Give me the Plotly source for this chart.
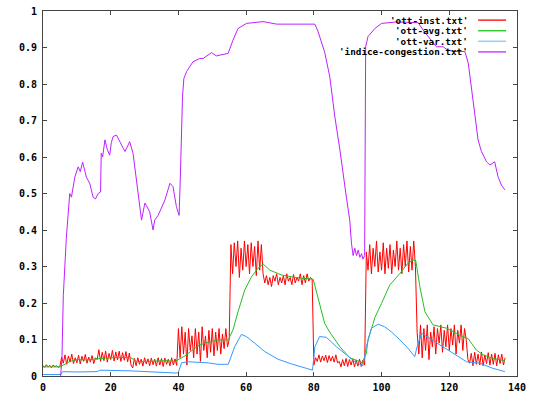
import numpy as np
import plotly.graph_objects as go

# ---------------- data ----------------
# ott-inst (sampled every 0.5 from 0 to 136.5)
inst_x = [i * 0.5 for i in range(274)]
inst_y = [
    # 0..4.5
    0.028, 0.024, 0.031, 0.025, 0.029, 0.023, 0.030, 0.026, 0.028, 0.024,
    # 5..15.5
    0.026, 0.052, 0.035, 0.058, 0.032, 0.055, 0.038, 0.060, 0.034, 0.050, 0.036,
    0.057, 0.033, 0.054, 0.040, 0.059, 0.035, 0.052, 0.038, 0.056, 0.034, 0.050,
    # 16..25.5
    0.045, 0.072, 0.040, 0.065, 0.042, 0.068, 0.038, 0.062, 0.045, 0.070,
    0.041, 0.066, 0.044, 0.068, 0.040, 0.064, 0.043, 0.067, 0.039, 0.063,
    # 26..39.5
    0.030, 0.022, 0.048, 0.028, 0.050, 0.032, 0.046, 0.027, 0.050, 0.033, 0.047, 0.028, 0.049, 0.031,
    0.046, 0.027, 0.050, 0.030, 0.048, 0.026, 0.049, 0.032, 0.046, 0.028, 0.050, 0.030, 0.047, 0.029,
    # 40..54.5
    0.130, 0.050, 0.135, 0.060, 0.120, 0.030, 0.130, 0.070, 0.110, 0.050, 0.130, 0.060, 0.120, 0.040, 0.135,
    0.070, 0.110, 0.050, 0.125, 0.065, 0.130, 0.055, 0.120, 0.070, 0.130, 0.060, 0.115, 0.075, 0.130, 0.080,
    # 55..64.5
    0.100, 0.360, 0.280, 0.365, 0.300, 0.370, 0.270, 0.350, 0.290, 0.370,
    0.300, 0.360, 0.280, 0.365, 0.300, 0.355, 0.275, 0.370, 0.290, 0.360,
    # 65..79.5
    0.280, 0.255, 0.275, 0.250, 0.270, 0.245, 0.275, 0.260, 0.280, 0.250, 0.270, 0.255, 0.275, 0.250, 0.280,
    0.260, 0.270, 0.250, 0.278, 0.255, 0.270, 0.260, 0.280, 0.250, 0.275, 0.255, 0.280, 0.260, 0.270, 0.265,
    # 80..95
    0.030, 0.050, 0.040, 0.058, 0.038, 0.055, 0.042, 0.057, 0.037, 0.056, 0.041, 0.054, 0.038, 0.058, 0.036, 0.040,
    0.025, 0.045, 0.028, 0.048, 0.026, 0.045, 0.030, 0.047, 0.025, 0.044, 0.027, 0.046, 0.026, 0.043, 0.030,
    # 95.5..110
    0.340, 0.290, 0.360, 0.280, 0.350, 0.300, 0.370, 0.285, 0.340, 0.290, 0.365, 0.280, 0.350, 0.295, 0.360,
    0.280, 0.345, 0.300, 0.370, 0.290, 0.350, 0.280, 0.360, 0.300, 0.370, 0.285, 0.355, 0.290, 0.370, 0.300,
    # 110.5..125.5
    0.120, 0.060, 0.140, 0.050, 0.130, 0.070, 0.140, 0.045, 0.120, 0.080, 0.135, 0.060, 0.130, 0.090, 0.140, 0.065,
    0.125, 0.080, 0.140, 0.070, 0.130, 0.085, 0.140, 0.060, 0.125, 0.090, 0.140, 0.070, 0.130, 0.100, 0.045,
    # 126..136.5
    0.035, 0.062, 0.028, 0.065, 0.032, 0.060, 0.030, 0.066, 0.028, 0.058, 0.034,
    0.064, 0.030, 0.060, 0.032, 0.062, 0.028, 0.058, 0.034, 0.060, 0.030, 0.050,
]

# ott-avg
avg_x = [0, 5.3, 6.0, 6.9, 8.0, 9.9, 12.8, 16.8, 20, 25.6, 27.0, 27.6, 32, 36.5, 39.0, 40.4, 41.9,
         44.8, 46.3, 47.8, 51.7, 54.7, 56.1, 57.6, 59.6, 61.6, 63.5, 65.0, 67.0, 70.4, 74.4, 79.8,
         81.2, 83.2, 84.7, 87.7, 90.6, 94.3, 95.5, 96.0, 97.5, 98.0, 100.0, 102.4, 105.4, 107.8,
         109.3, 110.1, 111.3, 112.8, 115.2, 119.2, 123.1, 125.6, 128.0, 130.0, 132.9, 136.4]
avg_y = [0.025, 0.025, 0.030, 0.035, 0.040, 0.045, 0.044, 0.048, 0.050, 0.051, 0.045, 0.039, 0.040,
         0.042, 0.040, 0.048, 0.055, 0.076, 0.085, 0.090, 0.099, 0.099, 0.126, 0.176, 0.236, 0.272,
         0.295, 0.307, 0.290, 0.277, 0.270, 0.265, 0.217, 0.144, 0.120, 0.080, 0.050, 0.037, 0.062,
         0.100, 0.144, 0.160, 0.199, 0.249, 0.281, 0.309, 0.318, 0.316, 0.245, 0.176, 0.140, 0.131,
         0.112, 0.102, 0.071, 0.058, 0.048, 0.042]

# ott-var
var_x = [0, 5.3, 5.8, 10, 16, 16.8, 26, 30, 39.4, 40.0, 40.9, 42.9, 48.8, 51.7, 54.7, 55.2, 56.6,
         58.6, 60.1, 62.5, 65.5, 69.4, 73.4, 77.8, 79.6, 80.3, 81.7, 83.7, 86.7, 89.6, 92.6, 94.5,
         95.5, 97.0, 99.0, 100.9, 102.9, 105.4, 107.8, 109.8, 110.5, 111.8, 114.2, 117.2, 121.1,
         124.1, 125.1, 129.0, 132.9, 136.4]
var_y = [0.004, 0.004, 0.012, 0.011, 0.012, 0.016, 0.014, 0.012, 0.008, 0.010, 0.036, 0.039, 0.036,
         0.032, 0.032, 0.044, 0.080, 0.114, 0.108, 0.090, 0.067, 0.046, 0.033, 0.021, 0.016, 0.080,
         0.108, 0.106, 0.080, 0.058, 0.036, 0.028, 0.080, 0.131, 0.142, 0.135, 0.121, 0.099, 0.076,
         0.053, 0.080, 0.117, 0.103, 0.085, 0.062, 0.044, 0.039, 0.035, 0.021, 0.012]

# indice-congestion
cong_x = [5.2, 5.6, 6.0, 6.5, 6.9, 7.4, 7.9, 8.4, 8.9, 9.4, 10.4, 11.0, 11.7, 12.3, 12.8, 13.8, 14.8,
          15.5, 16.3, 17.0, 17.2, 17.6, 18.3, 19.0, 19.7, 20.2, 20.7, 21.7, 22.7, 23.5, 24.2, 25.0,
          25.6, 26.6, 27.6, 28.6, 29.1, 30.1, 31.5, 32.5, 33.0, 34.0, 34.5, 36.0, 37.5, 38.4, 39.4,
          40.2, 40.6, 41.2, 41.6, 42.4, 44.3, 46.3, 47.3, 49.8, 51.2, 53.0, 54.7, 56.1, 57.6, 60.1,
          65.0, 69.0, 80.3, 81.2, 83.2, 84.7, 86.2, 87.7, 88.6, 89.6, 90.6, 91.1, 91.6, 92.1, 92.6,
          93.1, 93.6, 94.1, 94.5, 95.0, 95.3, 96.0, 98.0, 100.0, 104.4, 110.8, 112.5, 114.2, 116.2,
          118.2, 119.2, 121.1, 124.6, 125.6, 126.5, 127.5, 128.5, 129.5, 131.0, 132.0, 133.4, 134.4,
          135.4, 136.4]
cong_y = [0.0, 0.05, 0.22, 0.33, 0.38, 0.44, 0.50, 0.49, 0.52, 0.545, 0.573, 0.56, 0.586, 0.56, 0.545,
          0.528, 0.49, 0.485, 0.50, 0.504, 0.61, 0.60, 0.647, 0.62, 0.605, 0.64, 0.656, 0.66, 0.642,
          0.63, 0.615, 0.63, 0.642, 0.61, 0.537, 0.474, 0.427, 0.474, 0.45, 0.40, 0.427, 0.44, 0.45,
          0.482, 0.528, 0.519, 0.464, 0.44, 0.556, 0.765, 0.815, 0.834, 0.861, 0.87, 0.87, 0.886,
          0.877, 0.88, 0.884, 0.92, 0.952, 0.966, 0.971, 0.964, 0.964, 0.945, 0.887, 0.82, 0.71,
          0.619, 0.564, 0.49, 0.427, 0.364, 0.33, 0.35, 0.33, 0.345, 0.325, 0.335, 0.32, 0.33, 0.902,
          0.93, 0.952, 0.966, 0.97, 0.968, 0.945, 0.925, 0.902, 0.902, 0.895, 0.889, 0.889, 0.857,
          0.784, 0.72, 0.647, 0.615, 0.587, 0.578, 0.587, 0.546, 0.523, 0.51]

series_names = ["'ott-inst.txt'", "'ott-avg.txt'", "'ott-var.txt'", "'indice-congestion.txt'"]
series_colors = ["#ff0000", "#22c022", "#3399ff", "#c020ff"]
legend_sample_colors = ["#ff2020", "#33cc33", "#99ccff", "#cc44ff"]

x_ticks = [0, 20, 40, 60, 80, 100, 120, 140]
y_ticks = [0, 0.1, 0.2, 0.3, 0.4, 0.5, 0.6, 0.7, 0.8, 0.9, 1]
y_tick_text = ["0", "0.1", "0.2", "0.3", "0.4", "0.5", "0.6", "0.7", "0.8", "0.9", "1"]

# ---------------- figure ----------------
FONT = dict(family="DejaVu Sans Mono", size=10, color="black", weight="bold")
LFONT = dict(family="DejaVu Sans Mono", size=9.3, color="black", weight="bold")

fig = go.Figure()
all_data = [(inst_x, inst_y), (avg_x, avg_y), (var_x, var_y), (cong_x, cong_y)]
for (xs, ys), name, col in zip(all_data, series_names, series_colors):
    fig.add_trace(go.Scatter(x=xs, y=ys, mode="lines", name=name,
                             line=dict(color=col, width=1), showlegend=False))

# gnuplot-style legend: right-aligned text then sample line
ann = []
shapes = []
rows_y = [0.975, 0.946, 0.917, 0.888]
for name, col, yy in zip(series_names, legend_sample_colors, rows_y):
    ann.append(dict(x=0.901, y=yy, xref="paper", yref="paper", text=name, showarrow=False,
                    xanchor="right", yanchor="middle", font=LFONT))
    shapes.append(dict(type="line", xref="paper", yref="paper", x0=0.918, x1=0.977, y0=yy, y1=yy,
                       line=dict(color=col, width=1.5)))

axis_common = dict(showgrid=False, zeroline=False, showline=True, linecolor="#444", linewidth=1,
                   mirror="ticks", ticks="inside", ticklen=4, tickcolor="#444", tickwidth=1,
                   tickfont=FONT, automargin=False)

fig.update_layout(
    template="none",
    width=533, height=394,
    margin=dict(l=43, r=16, t=11, b=18, pad=0),
    paper_bgcolor="white", plot_bgcolor="white",
    xaxis=dict(range=[0, 140], tickvals=x_ticks, ticktext=[str(v) for v in x_ticks],
               ticklabelstandoff=2, **axis_common),
    yaxis=dict(range=[0, 1], tickvals=y_ticks, ticktext=y_tick_text, ticklabelstandoff=3, **axis_common),
    annotations=ann, shapes=shapes,
)

fig.write_html("out.html")
